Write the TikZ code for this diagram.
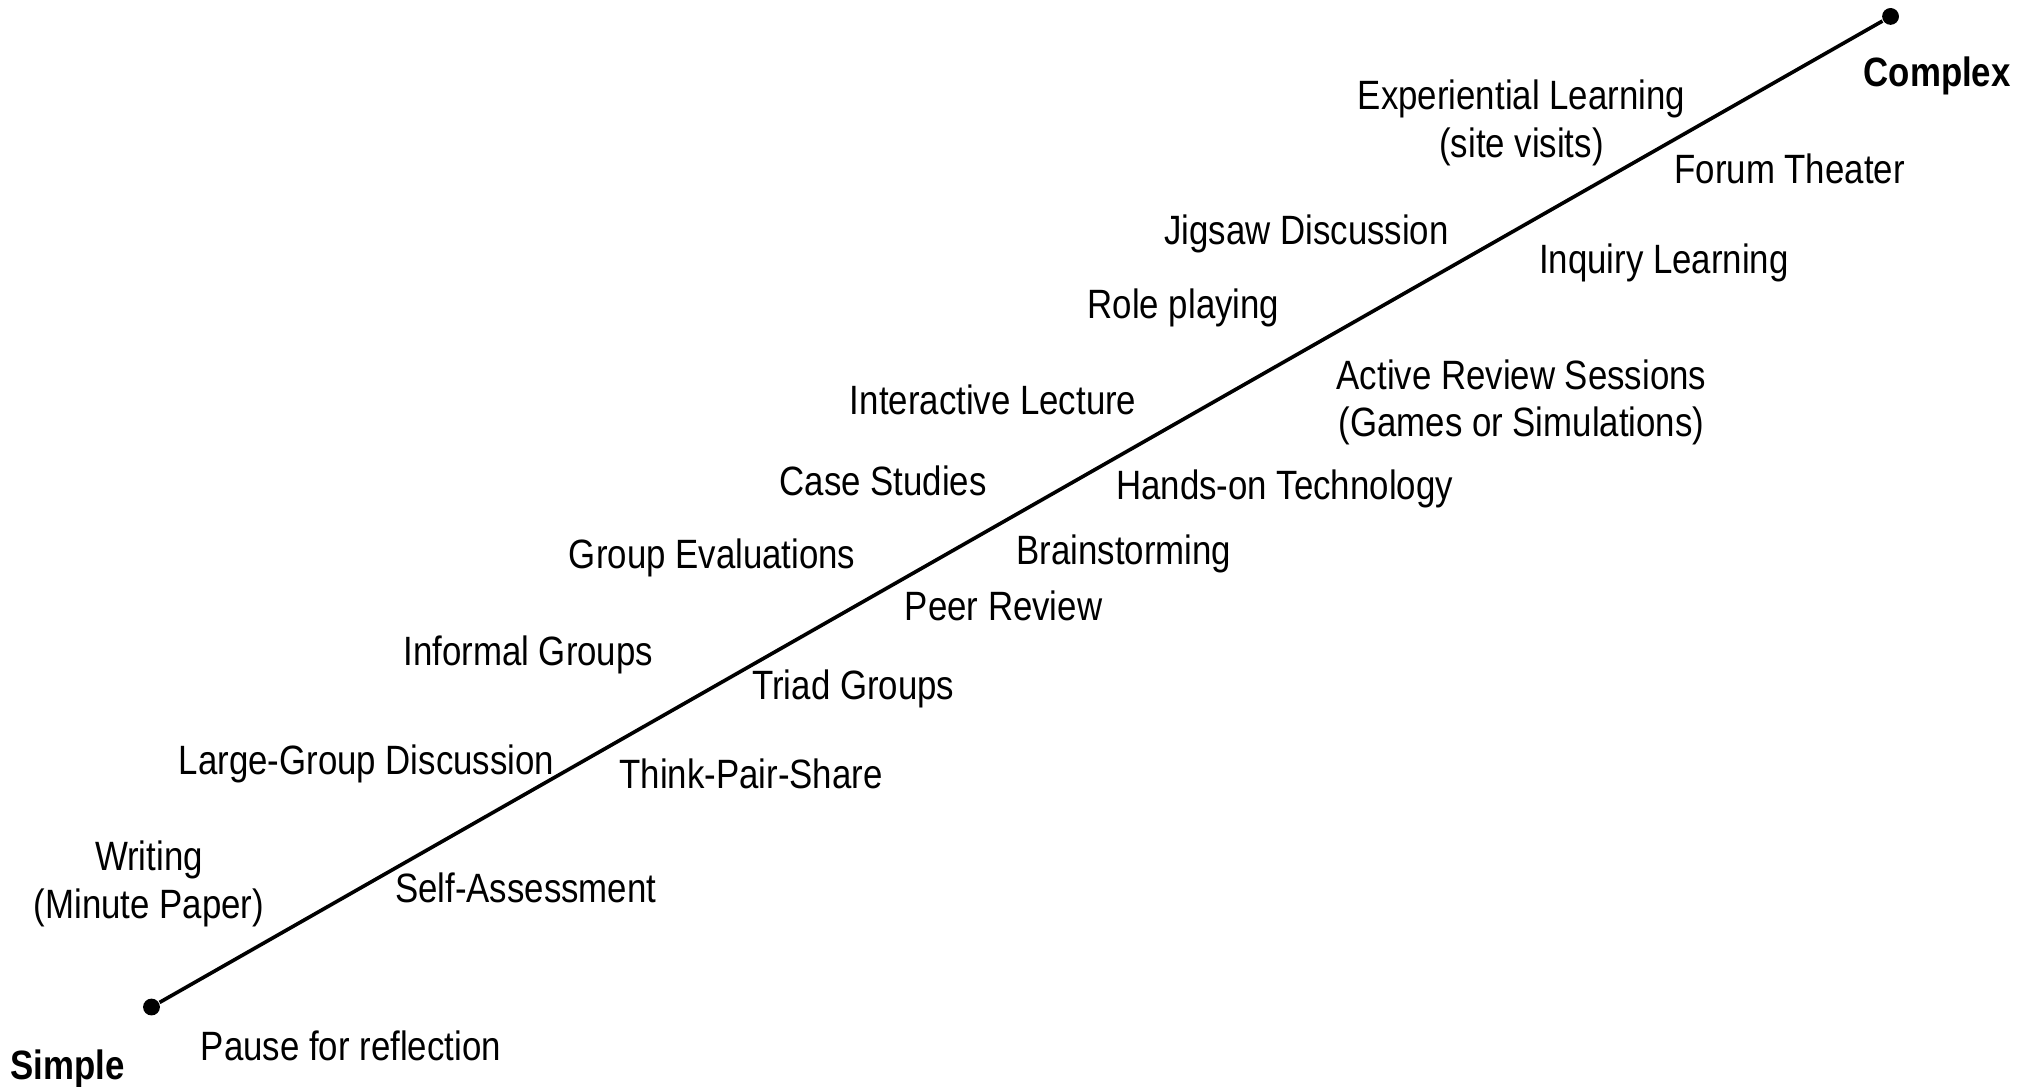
\documentclass[tikz,border=0pt]{standalone}
\usepackage{fontspec}
\setmainfont[FakeStretch=0.85]{Liberation Sans}
\begin{document}
\begin{tikzpicture}[lbl/.style={align=center, inner sep=1pt, font=\fontsize{9pt}{10.5pt}\selectfont},
  ends/.style={lbl, font=\fontsize{9pt}{10.5pt}\selectfont\bfseries},
  dot/.style={circle, fill, inner sep=0pt, minimum size=0.13cm}]
\useasboundingbox (0,0) rectangle (15.6,8.387);

\node[dot](s) at (1.17,0.61){};
\node[dot](c) at (14.60,8.26){};
\draw[line width=0.8pt](s)--(c);

\node[ends](simple) at (0.52,0.13){Simple};
\node[ends](complex) at (14.96,7.80){Complex};

\foreach \x/\y/\t/\n in {
  11.75/7.44/{Experiential Learning\\(site visits)}/exp,
  13.82/7.08/{Forum Theater}/forum,
  10.09/6.58/{Jigsaw Discussion}/jigsaw,
  12.85/6.36/{Inquiry Learning}/inquiry,
  9.14/6.01/{Role playing}/role,
  11.75/5.28/{Active Review Sessions\\(Games or Simulations)}/review,
  7.67/5.30/{Interactive Lecture}/lecture,
  6.82/4.67/{Case Studies}/case,
  9.92/4.61/{Hands-on Technology}/tech,
  5.50/4.08/{Group Evaluations}/eval,
  8.68/4.11/{Brainstorming}/brain,
  7.75/3.71/{Peer Review}/peer,
  4.08/3.33/{Informal Groups}/informal,
  6.59/3.07/{Triad Groups}/triad,
  2.83/2.49/{Large-Group Discussion}/large,
  5.80/2.41/{Think-Pair-Share}/tps,
  1.15/1.56/{Writing\\(Minute Paper)}/writing,
  4.06/1.53/{Self-Assessment}/self,
  2.71/0.31/{Pause for reflection}/pause}
{
    \node[lbl](\n) at (\x,\y){\t};
}

\end{tikzpicture}
\end{document}
